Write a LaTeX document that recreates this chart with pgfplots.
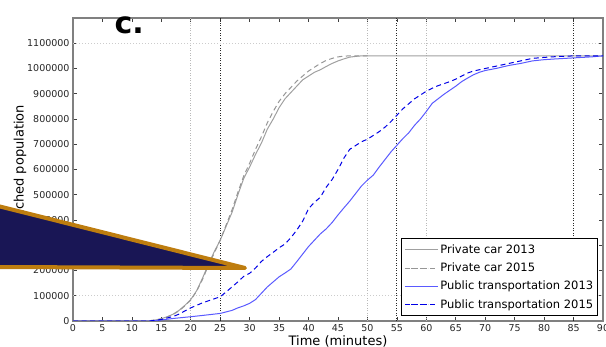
\documentclass[border=0pt]{standalone}
\usepackage{pgfplots}
\pgfplotsset{compat=1.18}
\usepackage{fontspec}
\setmainfont{DejaVu Sans}
\definecolor{navyfill}{RGB}{25,22,85}
\definecolor{goldedge}{RGB}{190,125,15}
\definecolor{carsolid}{RGB}{160,160,160}
\definecolor{cardash}{RGB}{150,150,150}
\definecolor{pubsolid}{RGB}{90,90,255}
\definecolor{pubdash}{RGB}{0,0,230}
\begin{document}
\begin{tikzpicture}
\begin{axis}[
  at={(73bp,26bp)}, anchor=south west,
  width=530bp, height=303bp, scale only axis,
  xmin=0, xmax=90, ymin=0, ymax=1200000,
  xtick={0,5,...,90},
  ytick={0,100000,200000,300000,400000,500000,600000,700000,800000,900000,1000000,1100000},
  yticklabels={0,100000,200000,300000,400000,500000,600000,700000,800000,900000,1000000,1100000},
  scaled y ticks=false,
  /pgf/number format/assume math mode=true,
  tick label style={font=\fontsize{9.5bp}{11bp}\selectfont, text=black!85},
  tick align=inside, tick pos=both,
  major tick length=4bp,
  every tick/.style={black!75, line width=0.7bp},
  axis line style={draw=gray, line width=1.5bp},
  xlabel={Time (minutes)},
  ylabel={Reached population},
  xlabel style={font=\fontsize{13bp}{15bp}\selectfont, yshift=3bp},
  every axis y label/.style={at={(axis description cs:-0.100,0.5)}, anchor=center, rotate=90, font=\fontsize{13bp}{15bp}\selectfont},
  title={\bfseries c.},
  title style={at={(rel axis cs:0.106,1)}, anchor=base, yshift=-21.5bp, font=\fontsize{30bp}{32bp}\selectfont},
  legend style={at={(rel axis cs:0.9906,0.0165)}, anchor=south east, draw=black, line width=0.8bp, fill=white,
    font=\fontsize{11.5bp}{13bp}\selectfont, row sep=4bp, inner xsep=2.5bp, inner ysep=4bp, cells={anchor=west}},
  legend cell align=left,
  legend image code/.code={\path (0bp,0bp) -- (33bp,0bp); \draw[#1, line width=0.9bp] (6.5bp,0bp) -- (23.5bp,0bp);},
]
% reference lines
\addplot[forget plot, gray!55, line width=0.8bp, dash pattern=on 1bp off 1.5bp] coordinates {(20,0) (20,1200000)};
\addplot[forget plot, gray!55, line width=0.8bp, dash pattern=on 1bp off 1.5bp] coordinates {(50,0) (50,1200000)};
\addplot[forget plot, gray!55, line width=0.8bp, dash pattern=on 1bp off 1.5bp] coordinates {(60,0) (60,1200000)};
\addplot[forget plot, black!85, line width=0.8bp, dash pattern=on 1bp off 1.5bp] coordinates {(25,0) (25,1200000)};
\addplot[forget plot, black!85, line width=0.8bp, dash pattern=on 1bp off 1.5bp] coordinates {(55,0) (55,1200000)};
\addplot[forget plot, black!85, line width=0.8bp, dash pattern=on 1bp off 1.5bp] coordinates {(85,0) (85,1200000)};
\addplot[forget plot, gray!40, line width=0.8bp, dash pattern=on 1bp off 2bp] coordinates {(0,100000) (90,100000)};
\addplot[forget plot, gray!40, line width=0.8bp, dash pattern=on 1bp off 2bp] coordinates {(0,1100000) (90,1100000)};
% Private car 2013
\addplot[carsolid, line width=1bp] coordinates {
(0,0) (12,0) (13,1000) (14,4000) (15,9000) (16,17000) (17,27000) (18,42000) (19,62000) (20,85000)
(21,120000) (22,170000) (23,225000) (24,275000) (25,320000) (26,375000) (27,430000) (28,500000)
(29,565000) (30,610000) (31,660000) (32,705000) (33,760000) (34,800000) (35,845000) (36,880000)
(37,905000) (38,930000) (39,955000) (40,970000) (41,985000) (42,995000) (43,1008000) (44,1020000)
(45,1030000) (46,1038000) (47,1045000) (48,1048000) (49,1050000) (50,1050000) (90,1050000)};
\addlegendentry{Private car 2013}
% Private car 2015
\addplot[cardash, line width=1bp, dash pattern=on 5bp off 3.5bp] coordinates {
(0,0) (12,0) (13,1000) (14,4000) (15,9000) (16,16000) (17,26000) (18,40000) (19,60000) (20,83000)
(21,118000) (22,165000) (23,220000) (24,270000) (25,320000) (26,380000) (27,440000) (28,510000)
(29,575000) (30,625000) (31,680000) (32,730000) (33,785000) (34,830000) (35,870000) (36,900000)
(37,925000) (38,950000) (39,970000) (40,990000) (41,1005000) (42,1020000) (43,1032000) (44,1040000)
(45,1046000) (46,1049000) (47,1050000) (50,1050000)};
\addlegendentry{Private car 2015}
% Public transportation 2013
\addplot[pubsolid, line width=1bp] coordinates {
(0,0) (13,0) (15,4000) (17,10000) (20,17000) (22,22000) (25,30000) (27,42000) (28,52000) (29,60000)
(30,70000) (31,85000) (32,110000) (33,135000) (34,155000) (35,175000) (36,190000) (37,206000)
(38,235000) (39,265000) (40,295000) (41,320000) (42,345000) (43,365000) (44,390000) (45,420000)
(46,448000) (47,475000) (48,505000) (49,535000) (50,558000) (51,578000) (52,610000) (53,640000)
(54,670000) (55,696000) (56,722000) (57,745000) (58,775000) (59,800000) (60,830000) (61,862000)
(62,880000) (63,898000) (64,914000) (65,930000) (66,948000) (67,962000) (68,975000) (69,985000)
(70,992000) (72,1001000) (74,1012000) (76,1020000) (78,1030000) (80,1035000) (82,1038000)
(85,1042000) (88,1046000) (90,1050000)};
\addlegendentry{Public transportation 2013}
% Public transportation 2015
\addplot[pubdash, line width=1bp, dash pattern=on 5bp off 3.5bp] coordinates {
(0,0) (13,0) (15,6000) (17,18000) (18,27000) (19,40000) (20,52000) (21,62000) (22,72000) (23,80000)
(24,88000) (25,96000) (26,115000) (27,135000) (28,155000) (29,177000) (30,189000) (31,210000)
(32,236000) (33,255000) (34,272000) (35,290000) (36,305000) (37,330000) (38,360000) (39,395000)
(40,445000) (41,470000) (42,490000) (43,530000) (44,560000) (45,600000) (46,645000) (47,680000)
(48,695000) (49,710000) (50,720000) (51,735000) (52,750000) (53,768000) (54,790000) (55,815000)
(56,840000) (57,860000) (58,880000) (59,895000) (60,910000) (61,922000) (62,932000) (63,940000)
(64,948000) (65,958000) (66,970000) (67,982000) (68,990000) (70,1000000) (72,1010000)
(74,1020000) (76,1030000) (78,1040000) (80,1044000) (82,1047000) (85,1050000) (90,1050000)};
\addlegendentry{Public transportation 2015}
\end{axis}
% overlay arrow shape
\filldraw[fill=navyfill, draw=goldedge, line width=4bp, line join=round]
  (-6bp,142bp) -- (245bp,79bp) -- (-6bp,80bp) -- cycle;
\pgfresetboundingbox
\path[use as bounding box] (0,0) rectangle (606bp,347bp);
\end{tikzpicture}
\end{document}
